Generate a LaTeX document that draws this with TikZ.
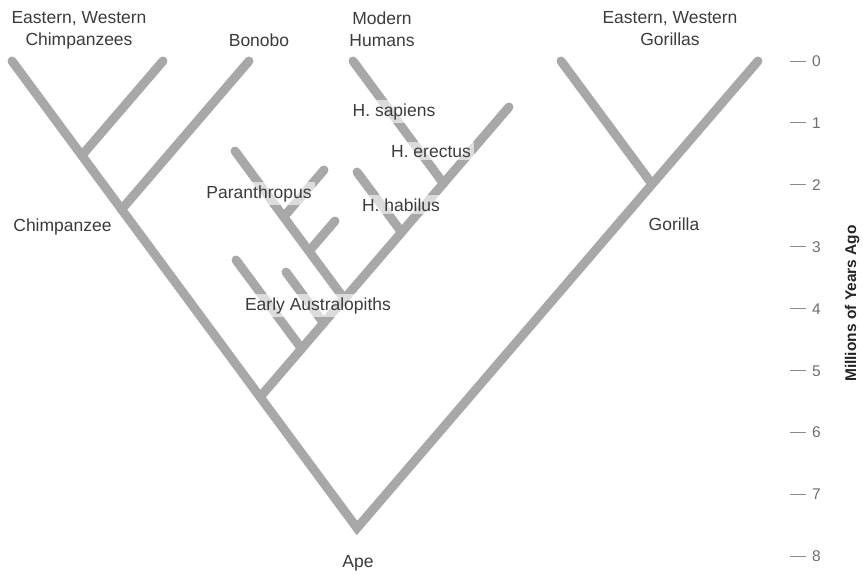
\documentclass[tikz,border=0pt]{standalone}
\usepackage{fontspec}
\setmainfont{Liberation Sans}
\definecolor{branchgray}{HTML}{A8A8A8}
\definecolor{labeltxt}{HTML}{3C3C3C}
\definecolor{axistxt}{HTML}{6E6E6E}
\definecolor{tickgray}{HTML}{8A8A8A}
\tikzset{
  branchline/.style={draw=branchgray, line width=9pt, line cap=round},
  lbl/.style={text=labeltxt, font=\fontsize{17.5}{22}\selectfont, inner sep=0pt, align=center},
  onlbl/.style={lbl, fill=white, fill opacity=0.6, text opacity=1, inner xsep=3pt, inner ysep=3pt},
  tickmark/.style={draw=tickgray, line width=1pt},
  ticknum/.style={text=axistxt, font=\fontsize{15.5}{18}\selectfont, inner sep=0pt, anchor=base west},
  axistitle/.style={text=black!85, font=\bfseries\fontsize{15.5}{18}\selectfont, rotate=90, anchor=base, inner sep=0pt}
}
\begin{document}
\begin{tikzpicture}[x=1pt,y=-1pt]
\fill[white] (0,0) rectangle (863,574);
\useasboundingbox (0,0) rectangle (863,574);
% tree points
\coordinate (ape)  at (357,528);
\coordinate (tEWa) at (12,61);
\coordinate (tEWb) at (163,61);
\coordinate (tBon) at (249,61);
\coordinate (cup)  at (81.8,155.5);
\coordinate (chim) at (121.6,209.4);
\coordinate (hom)  at (260.1,397);
\coordinate (gorL) at (561,61);
\coordinate (gorR) at (758,61);
\coordinate (gor)  at (652.1,184.2);
\coordinate (hTip) at (509,107);
\coordinate (eaA)  at (301.6,348.7);
\coordinate (eaAt) at (236,260);
\coordinate (eaB)  at (323.6,323);
\coordinate (eaBt) at (286,272);
\coordinate (par)  at (344.3,298.9);
\coordinate (parT) at (235,151);
\coordinate (pjA)  at (283.7,216.9);
\coordinate (pjAt) at (324,170);
\coordinate (pjB)  at (309,251.2);
\coordinate (pjBt) at (335,221);
\coordinate (hab)  at (401.6,232.2);
\coordinate (habT) at (357,172);
\coordinate (ere)  at (443.4,183.4);
\coordinate (humT) at (353,61);
% branches
\draw[branchline] (tEWa) -- (cup) -- (chim) -- (hom) -- (ape) -- (gor) -- (gorR);
\draw[branchline] (cup) -- (tEWb);
\draw[branchline] (chim) -- (tBon);
\draw[branchline] (gor) -- (gorL);
\draw[branchline] (hom) -- (eaA) -- (eaB) -- (par) -- (hab) -- (ere) -- (hTip);
\draw[branchline] (eaA) -- (eaAt);
\draw[branchline] (eaB) -- (eaBt);
\draw[branchline] (par) -- (pjB) -- (pjA) -- (parT);
\draw[branchline] (pjA) -- (pjAt);
\draw[branchline] (pjB) -- (pjBt);
\draw[branchline] (hab) -- (habT);
\draw[branchline] (ere) -- (humT);
% top labels
\node[lbl, anchor=north] (lChimps) at (79,11.4) {Eastern, Western\\Chimpanzees};
\node[lbl, anchor=base] (lBonobo) at (259,46) {Bonobo};
\node[lbl, anchor=north] (lHumans) at (382,11.4) {Modern\\Humans};
\node[lbl, anchor=north] (lGorillas) at (670,11.4) {Eastern, Western\\Gorillas};
% node labels
\node[lbl, anchor=base] (lChimp) at (62.5,231) {Chimpanzee};
\node[lbl, anchor=base] (lGor) at (674,230) {Gorilla};
\node[lbl, anchor=base] (lApe) at (358,567) {Ape};
\node[onlbl, anchor=base] (lSap) at (394,116) {H. sapiens};
\node[onlbl, anchor=base] (lEre) at (431,157) {H. erectus};
\node[onlbl, anchor=base] (lHab) at (401,211) {H. habilus};
\node[onlbl, anchor=base] (lPar) at (259,198) {Paranthropus};
\node[onlbl, anchor=base] (lEA) at (318,310) {Early Australopiths};
% axis
\foreach \k in {0,...,8} {
  \coordinate (tk\k) at (790,61+61.9*\k);
  \coordinate (te\k) at (806,61+61.9*\k);
  \draw[tickmark] (tk\k) -- (te\k);
  \node[ticknum] (n\k) at (812,66.5+61.9*\k) {\k};
}
\node[axistitle] (title) at (856,303.5) {Millions of Years Ago};
\end{tikzpicture}
\end{document}
